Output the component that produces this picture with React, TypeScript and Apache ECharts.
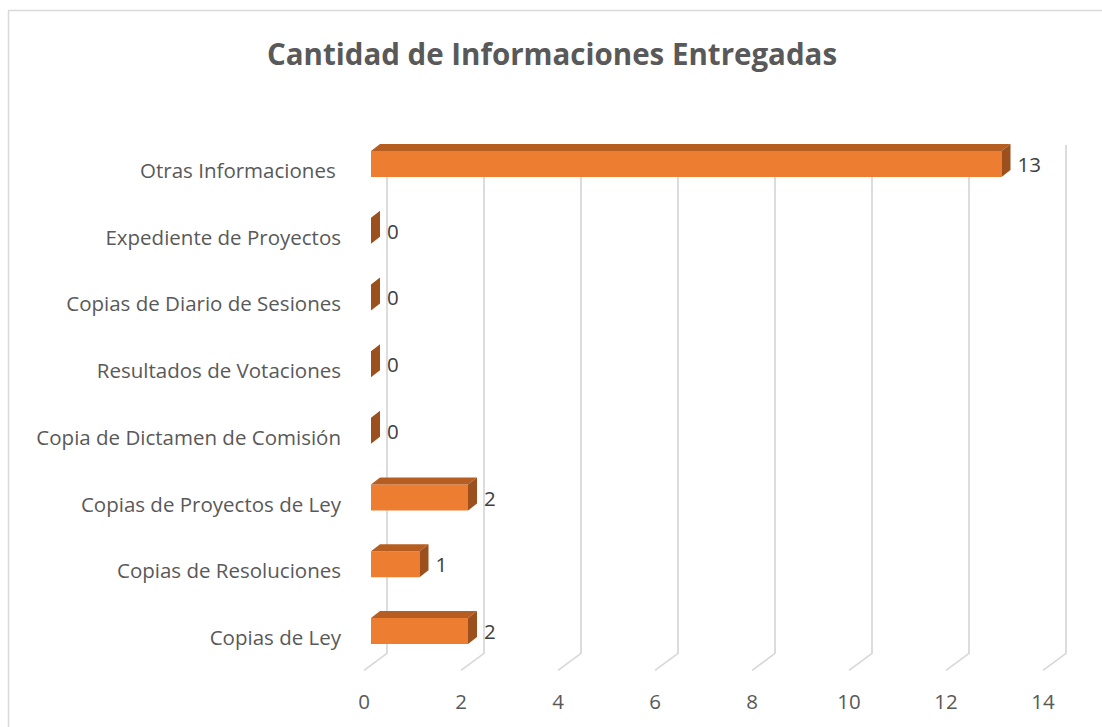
import React, { useEffect, useRef } from "react";
import * as echarts from "echarts";

const categories = [
  "Copias de Ley",
  "Copias de Resoluciones",
  "Copias de Proyectos de Ley",
  "Copia de Dictamen de Comisión",
  "Resultados de Votaciones",
  "Copias de Diario de Sesiones",
  "Expediente de Proyectos",
  "Otras Informaciones ",
];
const values = [2, 1, 2, 0, 0, 0, 0, 13];
const xTicks = [0, 2, 4, 6, 8, 10, 12, 14];
const title = "Cantidad de Informaciones Entregadas";

const FONT = "'Open Sans', sans-serif";

export default function App() {
  const ref = useRef<HTMLDivElement>(null);
  useEffect(() => {
    document.body.style.margin = "0";
    const chart = echarts.init(ref.current!, null, { renderer: "svg" });
    const barData = values.map((v, i) => [v, i]);
    const gridData = xTicks.map((v) => [v, 0]);
    chart.setOption({
      animation: false,
      backgroundColor: "#ffffff",
      textStyle: { fontFamily: FONT },
      title: {
        text: title,
        left: 547,
        textAlign: "center",
        top: 33,
        textStyle: { fontFamily: FONT, fontSize: 29.5, fontWeight: "bold", color: "#595959" },
      },
      graphic: [
        {
          type: "rect",
          shape: { x: 8.5, y: 10.5, width: 1200, height: 800 },
          style: { fill: "none", stroke: "#d9d9d9", lineWidth: 1.5 },
          silent: true,
          z: -10,
        },
      ],
      grid: { left: 364, right: 59, top: 136.6, bottom: 56.6 },
      xAxis: {
        type: "value",
        min: 0,
        max: 14,
        interval: 2,
        axisLine: { show: false },
        axisTick: { show: false },
        splitLine: { show: false },
        axisLabel: { color: "#595959", fontSize: 20.5, fontFamily: FONT, margin: 20 },
      },
      yAxis: {
        type: "category",
        data: categories,
        axisLine: { show: false },
        axisTick: { show: false },
        splitLine: { show: false },
        axisLabel: { color: "#595959", fontSize: 20.5, fontFamily: FONT, margin: 23 },
      },
      series: [
        {
          type: "custom",
          coordinateSystem: "cartesian2d",
          encode: { x: 0, y: 1 },
          data: gridData,
          silent: true,
          z: 1,
          renderItem: (params: any, api: any) => {
            const v = api.value(0);
            const p = api.coord([v, 0]);
            const cs = params.coordSys;
            const bottom = cs.y + cs.height;
            const x = p[0];
            return {
              type: "polyline",
              shape: {
                points: [
                  [x + 23, 145],
                  [x + 23, bottom - 17],
                  [x, bottom],
                ],
              },
              style: { fill: "none", stroke: "#d9d9d9", lineWidth: 1.8 },
            };
          },
        },
        {
          type: "custom",
          coordinateSystem: "cartesian2d",
          encode: { x: 0, y: 1 },
          data: barData,
          z: 2,
          renderItem: (params: any, api: any) => {
            const v = api.value(0);
            const idx = api.value(1);
            const p0 = api.coord([0, idx]);
            const p1 = api.coord([v, idx]);
            const x0 = p0[0] + 7;
            const x1 = p1[0] + 7;
            const cy = p0[1] - 6;
            const h = 26;
            const top = cy - h / 2;
            const bot = cy + h / 2;
            const dx = 9;
            const dy = 7;
            return {
              type: "group",
              children: [
                {
                  type: "rect",
                  shape: { x: x0, y: top, width: x1 - x0, height: h },
                  style: { fill: "#ED7D31" },
                },
                {
                  type: "polygon",
                  shape: {
                    points: [
                      [x0, top],
                      [x0 + dx, top - dy],
                      [x1 + dx, top - dy],
                      [x1, top],
                    ],
                  },
                  style: { fill: "#B65E22" },
                },
                {
                  type: "polygon",
                  shape: {
                    points: [
                      [x1, top],
                      [x1 + dx, top - dy],
                      [x1 + dx, bot - dy],
                      [x1, bot],
                    ],
                  },
                  style: { fill: "#9C501D" },
                },
                {
                  type: "text",
                  style: {
                    x: x1 + 16,
                    y: cy,
                    text: String(v),
                    fill: "#404040",
                    fontSize: 20.5,
                    fontFamily: FONT,
                    verticalAlign: "middle",
                    align: "left",
                  },
                },
              ],
            };
          },
        },
      ],
    });
    return () => chart.dispose();
  }, []);
  return (
    <div
      ref={ref}
      style={{ position: "fixed", left: 0, top: 0, width: 1102, height: 727 }}
    />
  );
}
